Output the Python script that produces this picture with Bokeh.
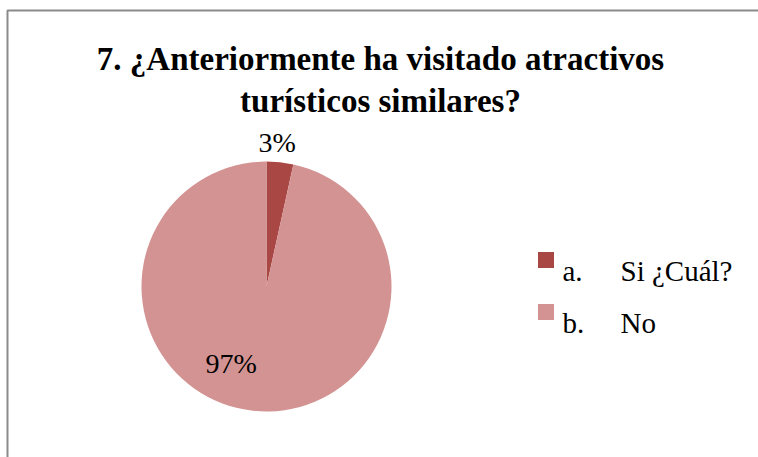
import math
from bokeh.plotting import figure
from bokeh.models import ColumnDataSource, Range1d
from bokeh.core.properties import value
from bokeh.embed import file_html
from bokeh.resources import INLINE

# ---- data ----
letters = ["a.", "b."]
categories = ["Si ¿Cuál?", "No"]
counts = [1, 28]
colors = ["#A94744", "#D39392"]
title_lines = ["7. ¿Anteriormente ha visitado atractivos", "turísticos similares?"]

W, H = 758, 457
p = figure(width=W, height=H, output_backend="svg", toolbar_location=None,
           x_range=Range1d(0, W), y_range=Range1d(0, H),
           min_border=0, min_border_left=0, min_border_right=0,
           min_border_top=0, min_border_bottom=0)
p.axis.visible = False
p.grid.visible = False
p.outline_line_color = None
p.background_fill_color = "white"
p.border_fill_color = "white"

# chart area border (left and top edges visible)
p.line(x=[7, 7, W + 10], y=[-10, H - 10, H - 10], line_color="#8a8a8a", line_width=2)

# pie
cx, cy, R = 266, 171, 125
total = sum(counts)
starts, ends, mids, pct = [], [], [], []
acc = 0
for c in counts:
    a0 = math.pi / 2 - 2 * math.pi * acc / total
    acc += c
    a1 = math.pi / 2 - 2 * math.pi * acc / total
    starts.append(a0); ends.append(a1); mids.append((a0 + a1) / 2)
    pct.append(f"{round(100 * c / total)}%")

src = ColumnDataSource(dict(start=starts, end=ends, color=colors, cat=categories))
p.wedge(x=cx, y=cy, radius=R, start_angle="start", end_angle="end",
        direction="clock", fill_color="color", line_color=None, source=src)

# data labels
label_r = [1.16, 0.62]
lx = [cx + R * r * math.cos(m) for r, m in zip(label_r, mids)]
ly = [cy + R * r * math.sin(m) for r, m in zip(label_r, mids)]
xoff = [-5, -27]
lsrc = ColumnDataSource(dict(x=lx, y=ly, t=pct, xo=xoff))
p.text(x="x", y="y", text="t", x_offset="xo", source=lsrc, text_align="center",
       text_baseline="middle", text_font=value("Liberation Serif"),
       text_font_size="28px", text_color="#000000")

# title
p.text(x=[380, 380], y=[H - 58, H - 100], text=title_lines, text_align="center",
       text_baseline="alphabetic", text_font=value("Liberation Serif"),
       text_font_size="33px", text_font_style="bold", text_color="#000000")

# legend
leg_y = [H - 259.5, H - 311.5]
lg = ColumnDataSource(dict(y=leg_y, color=colors, letter=letters, cat=categories,
                           by=[H - 270, H - 322]))
p.rect(x=545.5, y="y", width=16, height=16, fill_color="color", line_color=None, source=lg)
p.text(x=562, y="by", text="letter", source=lg, text_baseline="alphabetic",
       text_font=value("Liberation Serif"), text_font_size="29px", text_color="#000000")
p.text(x=620, y="by", text="cat", source=lg, text_baseline="alphabetic",
       text_font=value("Liberation Serif"), text_font_size="29px", text_color="#000000")

open("out.html", "w").write(file_html(p, INLINE))
